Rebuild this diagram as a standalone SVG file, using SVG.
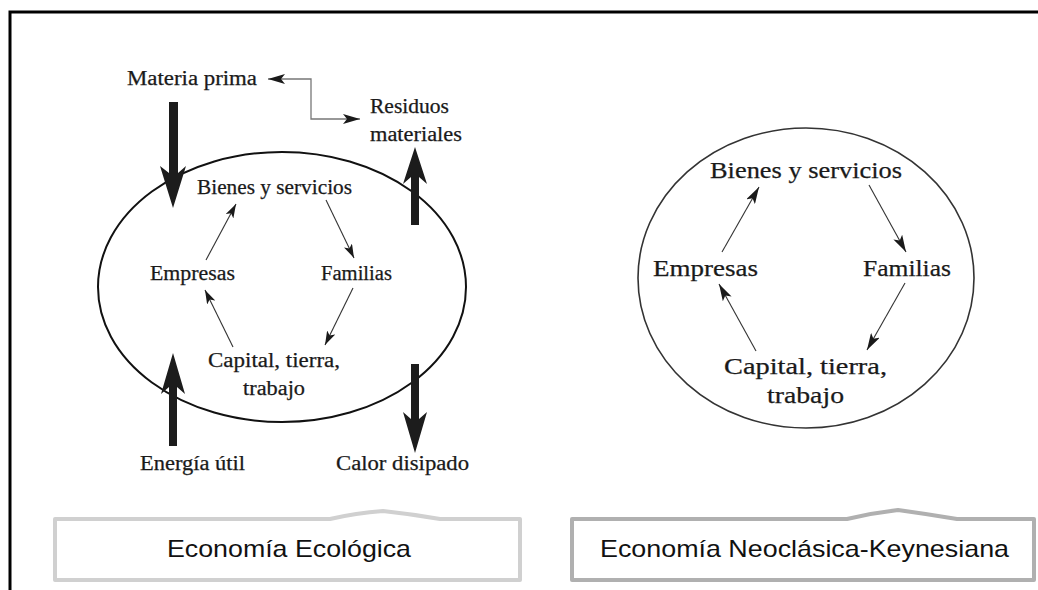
<svg xmlns="http://www.w3.org/2000/svg" width="1038" height="590" viewBox="0 0 1038 590">
<style>
.s{font-family:"Liberation Serif","Times New Roman",serif;fill:#1a1a1a;stroke:#1a1a1a;stroke-width:0.25;}
.l{font-size:20px;}
.r{font-size:23px;}
.lab{font-family:"Liberation Sans",Arial,sans-serif;font-size:24px;fill:#111;}
.thin{fill:none;stroke:#333;stroke-width:1.1;}
.thick{fill:#1c1c1c;}
</style>
<defs>
<marker id="ah" markerUnits="userSpaceOnUse" markerWidth="14" markerHeight="9" viewBox="0 0 14 9" refX="14" refY="4.5" orient="auto-start-reverse">
<path d="M0,0 L14,4.5 L0,9 L3.5,4.5 Z" fill="#1a1a1a"/>
</marker>
<marker id="ah2" markerUnits="userSpaceOnUse" markerWidth="17" markerHeight="10" viewBox="0 0 17 10" refX="17" refY="5" orient="auto-start-reverse">
<path d="M0,0 L17,5 L0,10 L4,5 Z" fill="#1a1a1a"/>
</marker>
</defs>
<rect x="0" y="0" width="1038" height="590" fill="#fff"/>
<rect x="10" y="12" width="1050" height="600" fill="none" stroke="#000" stroke-width="3"/>

<g id="eco-ellipse"><ellipse cx="282" cy="287" rx="184" ry="135" fill="none" stroke="#111" stroke-width="2"/></g>
<g id="neo-ellipse"><ellipse cx="806" cy="278" rx="168" ry="150" fill="none" stroke="#333" stroke-width="1.6"/></g>

<g id="eco-materia"><text class="s l" x="127" y="85" textLength="130" lengthAdjust="spacingAndGlyphs">Materia prima</text></g>
<g id="eco-residuos"><text class="s l" x="370" y="113" textLength="79" lengthAdjust="spacingAndGlyphs">Residuos</text><text class="s l" x="370" y="141" textLength="92" lengthAdjust="spacingAndGlyphs">materiales</text></g>
<g id="eco-bienes"><text class="s l" x="197" y="194" textLength="155" lengthAdjust="spacingAndGlyphs">Bienes y servicios</text></g>
<g id="eco-empresas"><text class="s l" x="150" y="280" textLength="85" lengthAdjust="spacingAndGlyphs">Empresas</text></g>
<g id="eco-familias"><text class="s l" x="321" y="280" textLength="71" lengthAdjust="spacingAndGlyphs">Familias</text></g>
<g id="eco-capital"><text class="s l" x="208" y="367" textLength="132" lengthAdjust="spacingAndGlyphs">Capital, tierra,</text><text class="s l" x="243" y="395" textLength="62" lengthAdjust="spacingAndGlyphs">trabajo</text></g>
<g id="eco-energia"><text class="s l" x="140" y="470" textLength="105" lengthAdjust="spacingAndGlyphs">Energía útil</text></g>
<g id="eco-calor"><text class="s l" x="336" y="470" textLength="133" lengthAdjust="spacingAndGlyphs">Calor disipado</text></g>

<g id="neo-bienes"><text class="s r" x="710" y="178" textLength="192" lengthAdjust="spacingAndGlyphs">Bienes y servicios</text></g>
<g id="neo-empresas"><text class="s r" x="653" y="276" textLength="105" lengthAdjust="spacingAndGlyphs">Empresas</text></g>
<g id="neo-familias"><text class="s r" x="863" y="276" textLength="88" lengthAdjust="spacingAndGlyphs">Familias</text></g>
<g id="neo-capital"><text class="s r" x="724" y="374" textLength="163" lengthAdjust="spacingAndGlyphs">Capital, tierra,</text><text class="s r" x="767" y="403" textLength="77" lengthAdjust="spacingAndGlyphs">trabajo</text></g>

<g id="label-eco">
<path d="M55,519 H330 Q356,513 383,511 Q411,514 440,519 H520 V580 H55 Z" fill="#fff" stroke="#d0d0d0" stroke-width="4" stroke-linejoin="round"/>
<text class="lab" x="167" y="557" textLength="244" lengthAdjust="spacingAndGlyphs">Economía Ecológica</text>
</g>
<g id="label-neo">
<path d="M572,519 H847 Q872,513 898,510 Q927,514 957,519 H1034 V580 H572 Z" fill="#fff" stroke="#b0b0b0" stroke-width="4" stroke-linejoin="round"/>
<text class="lab" x="600" y="557" textLength="409" lengthAdjust="spacingAndGlyphs">Economía Neoclásica-Keynesiana</text>
</g>

<g id="connectors">
<path d="M268,79 H311 V119 H360" fill="none" stroke="#777" stroke-width="1.3" marker-start="url(#ah2)" marker-end="url(#ah2)"/>
<path class="thick" d="M169,102 L178,102 L178,173 L186,166 L173,208 L160,166 L169,173 Z"/>
<path class="thick" d="M411,225 L419,225 L419,177 L427,184 L415,147 L403,184 L411,177 Z"/>
<path class="thick" d="M169,446 L177,446 L177,387 L185,394 L173,353 L161,394 L169,387 Z"/>
<path class="thick" d="M411,364 L419,364 L419,419 L427,412 L415,453 L403,412 L411,419 Z"/>
<line class="thin" x1="206" y1="260" x2="236" y2="204" marker-end="url(#ah)"/>
<line class="thin" x1="326" y1="200" x2="354" y2="258" marker-end="url(#ah)"/>
<line class="thin" x1="353" y1="288" x2="325" y2="345" marker-end="url(#ah)"/>
<line class="thin" x1="233" y1="347" x2="205" y2="290" marker-end="url(#ah)"/>
<line class="thin" x1="722" y1="252" x2="759" y2="187" marker-end="url(#ah2)"/>
<line class="thin" x1="869" y1="185" x2="906" y2="252" marker-end="url(#ah2)"/>
<line class="thin" x1="905" y1="283" x2="867" y2="350" marker-end="url(#ah2)"/>
<line class="thin" x1="756" y1="351" x2="719" y2="284" marker-end="url(#ah2)"/>
</g>
</svg>
